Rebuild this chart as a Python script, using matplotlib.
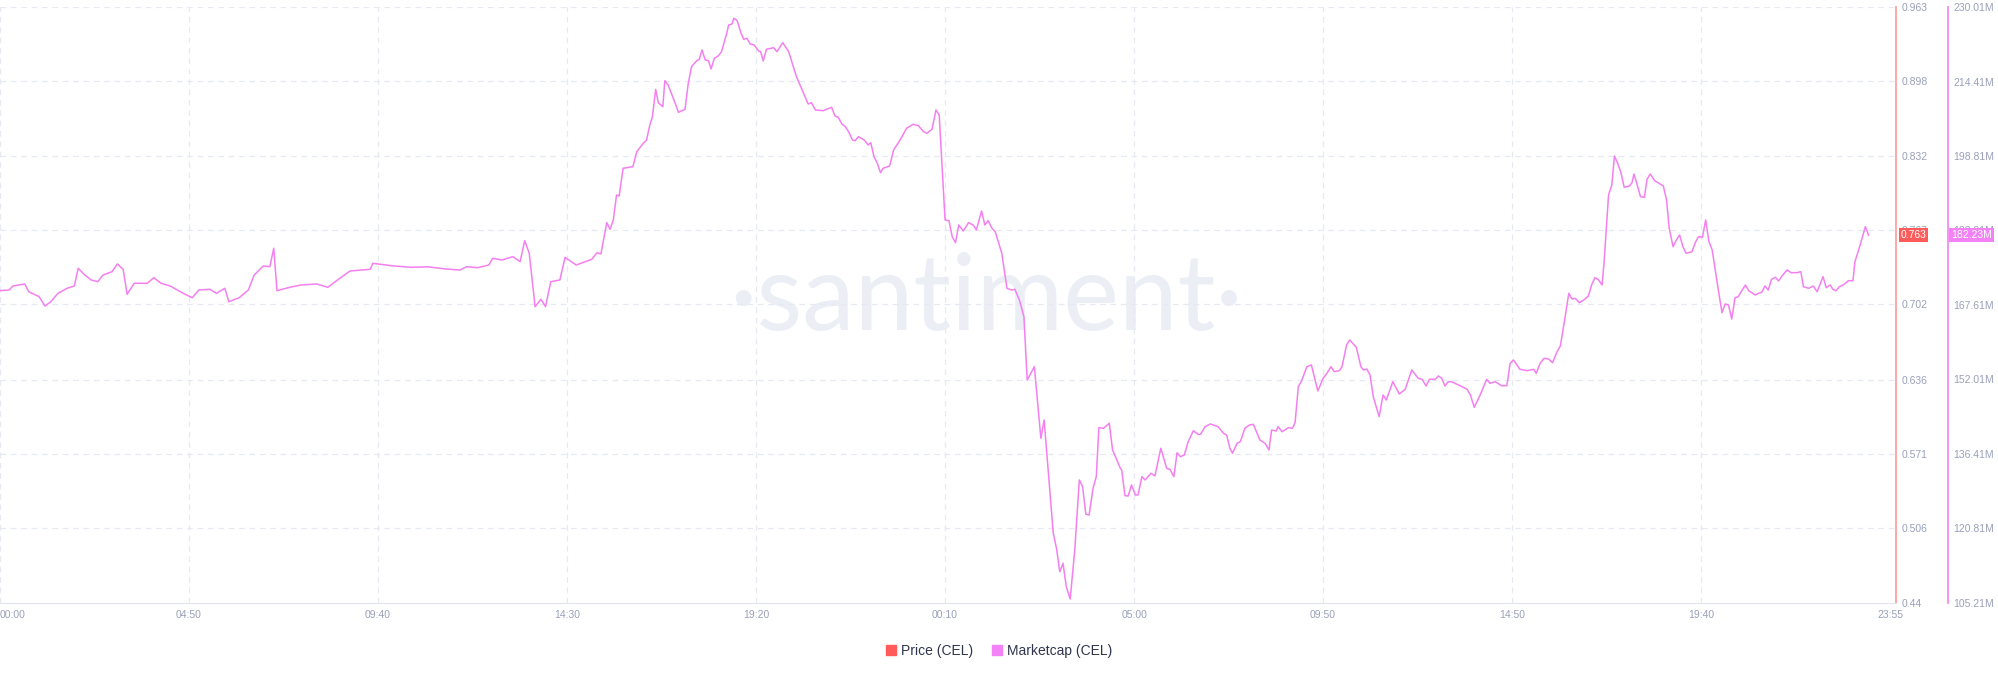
import matplotlib
matplotlib.use("Agg")
import matplotlib.pyplot as plt
from matplotlib.patches import Patch

# minutes from the first 00:00, marketcap in millions
times_min = [0, 14, 20, 38, 44, 60, 69, 78, 89, 103, 114, 120, 130, 140, 150, 158, 172, 180, 189, 195,
             206, 226, 236, 247, 261, 281, 295, 305, 322, 332, 345, 351, 367, 381, 390, 404, 414, 420, 425, 445,
             462, 486, 503, 520, 537, 568, 572, 603, 631, 657, 684, 706, 716, 733, 750, 756, 770, 787, 798, 805,
             812, 821, 830, 837, 845, 859, 867, 884, 898, 908, 916, 922, 925, 931, 936, 941, 946, 950, 956, 971,
             977, 987, 992, 997, 1001, 1006, 1010, 1017, 1020, 1025, 1033, 1041, 1051, 1056, 1061, 1069, 1073, 1077, 1082, 1087,
             1091, 1096, 1102, 1107, 1115, 1118, 1123, 1126, 1131, 1137, 1141, 1146, 1151, 1157, 1164, 1167, 1171, 1176, 1187, 1192,
             1201, 1210, 1222, 1233, 1240, 1245, 1251, 1263, 1276, 1281, 1286, 1292, 1297, 1302, 1308, 1312, 1317, 1326, 1332, 1336,
             1341, 1346, 1351, 1355, 1365, 1371, 1381, 1391, 1401, 1409, 1417, 1422, 1430, 1436, 1441, 1450, 1456, 1461, 1466, 1471,
             1478, 1486, 1493, 1498, 1506, 1511, 1516, 1522, 1527, 1537, 1545, 1552, 1557, 1564, 1571, 1576, 1587, 1597, 1602, 1616,
             1621, 1626, 1631, 1636, 1642, 1649, 1656, 1661, 1666, 1671, 1677, 1682, 1686, 1693, 1702, 1707, 1719, 1721, 1726, 1731,
             1736, 1742, 1746, 1752, 1757, 1766, 1772, 1781, 1790, 1795, 1801, 1806, 1811, 1817, 1823, 1831, 1838, 1842, 1849, 1857,
             1869, 1877, 1882, 1887, 1891, 1898, 1903, 1910, 1917, 1923, 1933, 1941, 1947, 1951, 1958, 1961, 1967, 1977, 1983, 1987,
             1992, 1997, 2005, 2012, 2022, 2030, 2036, 2042, 2047, 2055, 2059, 2066, 2071, 2081, 2088, 2092, 2097, 2102, 2107, 2116,
             2122, 2127, 2137, 2147, 2156, 2166, 2176, 2182, 2188, 2193, 2202, 2207, 2212, 2217, 2222, 2227, 2240, 2251, 2256, 2262,
             2271, 2281, 2286, 2294, 2304, 2312, 2317, 2322, 2332, 2343, 2353, 2357, 2363, 2369, 2376, 2382, 2389, 2394, 2401, 2407,
             2412, 2417, 2423, 2430, 2437, 2442, 2447, 2452, 2458, 2461, 2468, 2473, 2477, 2482, 2487, 2492, 2500, 2504, 2507, 2512,
             2517, 2523, 2527, 2532, 2539, 2544, 2552, 2557, 2561, 2567, 2572, 2577, 2582, 2587, 2596, 2601, 2606, 2612, 2617, 2622,
             2627, 2634, 2642, 2647, 2652, 2657, 2662, 2667, 2672, 2678, 2683, 2693, 2698, 2703, 2708, 2713, 2718, 2724, 2729, 2734,
             2742, 2748, 2757, 2763, 2767, 2775, 2782, 2788, 2797, 2802, 2808, 2812, 2817, 2822, 2828, 2836, 2843, 2846, 2854, 2862,
             2867]
mcap_m = [170.61, 170.75, 171.59, 172.01, 170.40, 169.35, 167.40, 168.30, 170.06, 171.11, 171.59, 175.30, 173.89, 172.85, 172.49, 173.89, 174.59, 176.20, 175.09, 169.85,
          172.16, 172.16, 173.33, 172.16, 171.59, 170.06, 169.14, 170.75, 170.90, 170.06, 171.11, 168.30, 169.14, 170.75, 173.89, 175.78, 175.63, 179.49, 170.61, 171.32,
          171.80, 172.01, 171.32, 173.06, 174.73, 175.09, 176.34, 175.80, 175.50, 175.60, 175.15, 174.94, 175.63, 175.42, 175.99, 177.39, 177.04, 177.73, 176.68, 181.08,
          178.44, 167.26, 168.81, 167.26, 172.49, 172.85, 177.60, 175.99, 176.68, 177.18, 178.56, 178.29, 180.53, 184.85, 183.46, 185.41, 190.65, 190.44, 196.24, 196.57,
          199.71, 201.47, 202.16, 205.30, 207.04, 212.78, 209.97, 209.14, 214.58, 213.68, 210.90, 207.96, 208.59, 214.04, 217.51, 218.77, 219.06, 221.01, 218.92, 218.77,
          217.03, 219.27, 219.75, 220.65, 224.51, 226.24, 226.45, 227.65, 227.15, 224.51, 223.25, 223.46, 222.27, 222.06, 220.80, 220.65, 218.71, 221.16, 221.49, 220.65,
          222.54, 220.65, 215.42, 211.94, 209.70, 209.97, 208.45, 208.30, 209.01, 207.19, 206.92, 205.45, 204.95, 203.90, 202.16, 202.02, 202.86, 202.16, 201.12, 201.60,
          198.67, 197.29, 195.32, 196.24, 196.72, 200.07, 202.16, 204.61, 205.45, 205.16, 203.90, 203.57, 204.40, 208.45, 207.40, 185.41, 185.27, 181.91, 180.66, 184.37,
          183.11, 184.85, 184.37, 183.32, 187.30, 184.37, 185.27, 183.67, 182.96, 178.44, 171.11, 170.75, 170.90, 168.66, 165.16, 151.91, 154.69, 139.70, 143.53, 119.80,
          116.66, 111.77, 113.52, 108.62, 106.05, 116.31, 130.97, 129.57, 123.78, 123.64, 129.23, 131.66, 141.92, 141.79, 142.84, 137.25, 133.42, 133.06, 127.68, 127.62,
          129.92, 127.83, 127.83, 131.66, 130.97, 132.37, 131.81, 137.61, 133.42, 133.21, 131.66, 136.68, 135.85, 136.20, 138.99, 141.29, 140.54, 140.54, 142.13, 142.70,
          142.13, 140.75, 140.39, 137.61, 136.56, 138.65, 138.99, 141.79, 142.48, 142.63, 139.34, 138.65, 137.25, 141.44, 141.23, 142.13, 141.08, 141.92, 141.79, 142.97,
          150.51, 151.70, 154.69, 155.05, 149.60, 152.26, 153.31, 154.69, 153.65, 153.86, 154.69, 159.24, 160.28, 158.75, 154.69, 154.00, 154.21, 152.96, 148.41, 144.22,
          148.77, 147.72, 151.55, 148.98, 149.96, 154.00, 152.26, 152.05, 150.65, 152.05, 152.05, 152.75, 152.26, 150.65, 151.55, 151.55, 150.71, 149.96, 148.77, 146.19,
          148.77, 152.05, 151.22, 151.55, 150.71, 150.71, 155.40, 156.10, 154.15, 153.86, 154.15, 153.31, 155.40, 156.45, 156.31, 155.53, 157.83, 159.03, 164.83, 170.06,
          168.87, 169.01, 168.09, 168.66, 169.50, 171.80, 173.33, 172.99, 171.80, 176.34, 190.65, 192.74, 198.81, 197.28, 195.32, 192.26, 192.53, 193.22, 195.04, 192.74,
          190.29, 190.16, 193.93, 195.04, 193.58, 193.22, 192.53, 189.60, 183.67, 179.82, 181.22, 182.27, 179.82, 178.44, 178.77, 180.66, 181.92, 181.79, 185.41, 180.87,
          179.13, 172.85, 166.00, 167.82, 167.61, 164.68, 169.14, 169.35, 170.54, 171.80, 170.61, 169.71, 170.06, 170.27, 171.59, 170.75, 172.99, 173.41, 172.64, 173.69,
          174.94, 174.38, 174.38, 174.59, 171.44, 171.11, 171.59, 170.40, 173.54, 171.24, 171.80, 170.90, 170.61, 171.44, 171.80, 172.70, 172.70, 176.68, 180.18, 184.01,
          182.23]

x_tick_pos = [0, 290, 580, 870, 1160, 1450, 1740, 2030, 2320, 2610, 2900]
x_tick_labels = ['00:00', '04:50', '09:40', '14:30', '19:20', '00:10', '05:00', '09:50', '14:50', '19:40', '23:55']
price_ticks = [0.44, 0.506, 0.571, 0.636, 0.702, 0.767, 0.832, 0.898, 0.963]
mcap_ticks = [105.21, 120.81, 136.41, 152.01, 167.61, 183.21, 198.81, 214.41, 230.01]
last_price = 0.763
last_mcap = 182.23

RED = '#ff5b5b'
PINK = '#f47ff0'
GRID = '#e6e8f2'
LABEL = '#9aa0ba'

plt.rcParams['font.family'] = ['Liberation Sans', 'DejaVu Sans']

W, H = 1999, 677
fig = plt.figure(figsize=(W / 100, H / 100), dpi=100)
fig.patch.set_facecolor('white')
ax = fig.add_axes([0, 74 / H, 1896 / W, 596 / H])

ax.set_xlim(0, 2909)
ax.set_ylim(price_ticks[0], price_ticks[-1])

# dashed grid
for p in price_ticks[1:]:
    ax.axhline(p, color=GRID, lw=0.9, ls=(0, (4.5, 3.8)), zorder=1)
for t in x_tick_pos[:-1]:
    ax.axvline(t, color=GRID, lw=0.9, ls=(0, (4.5, 3.8)), zorder=1)

ax.text(986 / W, 1 - 330 / H, '\u00b7santiment\u00b7', transform=fig.transFigure,
        ha='center', va='baseline', fontsize=76, color='#eceef6',
        family=['Lato', 'DejaVu Sans'], zorder=0.5)

# marketcap on its own axis
ax2 = ax.twinx()
ax2.set_ylim(mcap_ticks[0], mcap_ticks[-1])
ax2.plot(times_min, mcap_m, color=PINK, lw=1.1, solid_joinstyle='round', zorder=3)
for s in ['top', 'left', 'bottom']:
    ax2.spines[s].set_visible(False)
ax2.spines['right'].set_position(('outward', 37.4))
ax2.spines['right'].set_color('#f78af4')
ax2.spines['right'].set_linewidth(1.3)
ax2.set_yticks(mcap_ticks)
ax2.set_yticklabels([f'{v:.2f}M' for v in mcap_ticks])
ax2.tick_params(axis='y', length=0, pad=3.6, labelsize=7.5, labelcolor=LABEL)

# price axis (twinx moved its ticks to the left, put them back)
for s in ['top', 'left']:
    ax.spines[s].set_visible(False)
ax.spines['bottom'].set_color('#e1e3ef')
ax.spines['right'].set_visible(True)
ax.spines['right'].set_color('#ffa0a0')
ax.spines['right'].set_linewidth(1.3)

ax.set_xticks(x_tick_pos)
ax.set_xticklabels(x_tick_labels)
ax.get_xticklabels()[0].set_ha('left')
ax.tick_params(axis='x', length=0, pad=5, labelsize=7.5, labelcolor=LABEL)

ax.set_yticks(price_ticks)
ax.set_yticklabels([str(p) for p in price_ticks])
ax.yaxis.set_ticks_position('right')
ax.yaxis.set_label_position('right')
ax.tick_params(axis='y', which='both', left=False, labelleft=False, right=False,
               labelright=True, length=0, pad=4.3, labelsize=7.5, labelcolor=LABEL)

# last-value badges
ax.annotate(f'{last_price:.3f}', xy=(1, last_price), xycoords=('axes fraction', 'data'),
            xytext=(3.2, 0), textcoords='offset points', ha='left', va='center',
            fontsize=7.5, color='white', annotation_clip=False, zorder=5,
            bbox=dict(boxstyle='square,pad=0.18', fc=RED, ec='none'))
ax2.annotate(f'{last_mcap:.2f}M', xy=(1, last_mcap), xycoords=('axes fraction', 'data'),
             xytext=(39.6, 0), textcoords='offset points', ha='left', va='center',
             fontsize=7.5, color='white', annotation_clip=False, zorder=5,
             bbox=dict(boxstyle='square,pad=0.18', fc='#f282f5', ec='none'))

fig.legend(handles=[Patch(color=RED, label='Price (CEL)'),
                    Patch(color='#f282f5', label='Marketcap (CEL)')],
           loc='center', bbox_to_anchor=(999 / W, 1 - 651 / H), ncol=2, frameon=False,
           fontsize=10, handlelength=0.7, handleheight=0.7, handletextpad=0.35,
           columnspacing=1.4, labelcolor='#2f354d')

fig.savefig('out.png', dpi=100, facecolor='white')
